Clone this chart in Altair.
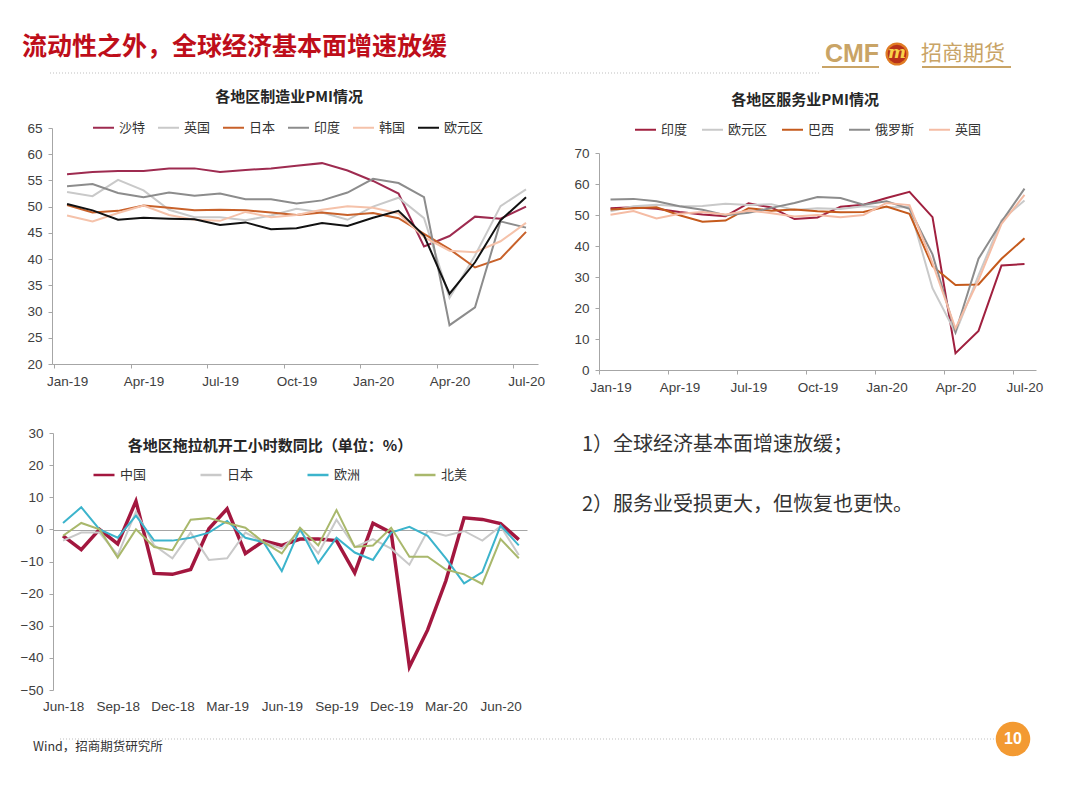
import json
import altair as alt
import pandas as pd

CJK = "Noto Sans CJK SC"
LATIN = "Liberation Sans"
W, H, M = 1064, 770, 8  # canvas size (plot area) and page margin

# ---------------- slide texts ----------------
SLIDE_TITLE = "流动性之外，全球经济基本面增速放缓"
LOGO_EN = "CMF"
LOGO_CN = "招商期货"
LOGO_MARK = "m"
NOTE_1 = "1）全球经济基本面增速放缓；"
NOTE_2 = "2）服务业受损更大，但恢复也更快。"
SOURCE = "Wind，招商期货研究所"
PAGE_NO = "10"

# ---------------- chart 1: manufacturing PMI ----------------
MFG_TITLE = "各地区制造业PMI情况"
mfg_months = ["Jan-19", "Feb-19", "Mar-19", "Apr-19", "May-19", "Jun-19", "Jul-19",
              "Aug-19", "Sep-19", "Oct-19", "Nov-19", "Dec-19", "Jan-20", "Feb-20",
              "Mar-20", "Apr-20", "May-20", "Jun-20", "Jul-20"]
mfg_series = ["沙特", "英国", "日本", "印度", "韩国", "欧元区"]
mfg_colors = ["#9E2B50", "#C9C9C9", "#C8612A", "#8C8C8C", "#F5C2AA", "#111111"]
mfg_saudi = [56.2, 56.6, 56.8, 56.8, 57.3, 57.3, 56.6, 57.0, 57.3, 57.8, 58.3, 56.9, 54.9, 52.5, 42.4, 44.4, 48.1, 47.7, 50.0]
mfg_uk = [52.8, 52.0, 55.1, 53.1, 49.4, 48.0, 48.0, 47.4, 48.3, 49.6, 48.9, 47.5, 50.0, 51.7, 47.8, 32.6, 40.7, 50.1, 53.3]
mfg_japan = [50.3, 48.9, 49.2, 50.2, 49.8, 49.3, 49.4, 49.3, 48.9, 48.4, 48.9, 48.4, 48.8, 47.8, 44.8, 41.9, 38.4, 40.1, 45.2]
mfg_india = [53.9, 54.3, 52.6, 51.8, 52.7, 52.1, 52.5, 51.4, 51.4, 50.6, 51.2, 52.7, 55.3, 54.5, 51.8, 27.4, 30.8, 47.2, 46.0]
mfg_korea = [48.3, 47.2, 48.8, 50.2, 48.4, 47.5, 47.3, 49.0, 48.0, 48.4, 49.4, 50.1, 49.8, 48.7, 44.2, 41.6, 41.3, 43.4, 46.9]
mfg_ez = [50.5, 49.3, 47.5, 47.9, 47.7, 47.6, 46.5, 47.0, 45.7, 45.9, 46.9, 46.3, 47.9, 49.2, 44.5, 33.4, 39.4, 47.4, 51.8]
mfg_yticks = [20, 25, 30, 35, 40, 45, 50, 55, 60, 65]

# ---------------- chart 2: services PMI ----------------
SVC_TITLE = "各地区服务业PMI情况"
svc_months = ["Jan-19", "Feb-19", "Mar-19", "Apr-19", "May-19", "Jun-19", "Jul-19",
              "Aug-19", "Sep-19", "Oct-19", "Nov-19", "Dec-19", "Jan-20", "Feb-20",
              "Mar-20", "Apr-20", "May-20", "Jun-20", "Jul-20"]
svc_series = ["印度", "欧元区", "巴西", "俄罗斯", "英国"]
svc_colors = ["#A0203F", "#C9C9C9", "#C55A1C", "#8C8C8C", "#F5BCA4"]
svc_india = [52.2, 52.5, 52.0, 51.0, 50.2, 49.6, 53.8, 52.4, 48.7, 49.2, 52.7, 53.3, 55.5, 57.5, 49.3, 5.4, 12.6, 33.7, 34.2]
svc_ez = [51.2, 52.8, 53.3, 52.8, 52.9, 53.6, 53.2, 53.5, 51.6, 52.2, 51.9, 52.8, 52.5, 52.6, 26.4, 12.0, 30.5, 48.3, 54.7]
svc_brazil = [51.8, 52.2, 52.5, 49.9, 47.8, 48.2, 52.2, 51.4, 51.8, 51.2, 50.9, 51.0, 52.7, 50.4, 33.5, 27.4, 27.6, 35.9, 42.5]
svc_russia = [55.0, 55.2, 54.4, 52.8, 51.7, 49.9, 50.7, 52.3, 53.9, 55.8, 55.5, 53.3, 54.4, 52.0, 37.3, 12.2, 35.9, 47.8, 58.5]
svc_uk = [50.1, 51.3, 48.9, 50.4, 51.0, 50.2, 51.4, 50.6, 49.5, 50.0, 49.3, 50.0, 53.9, 53.2, 34.5, 13.4, 29.0, 47.1, 56.5]
svc_yticks = [0, 10, 20, 30, 40, 50, 60, 70]

# ---------------- chart 3: tractor working hours YoY ----------------
TRC_TITLE = "各地区拖拉机开工小时数同比（单位：%）"
trc_months = ["Jun-18", "Jul-18", "Aug-18", "Sep-18", "Oct-18", "Nov-18", "Dec-18",
              "Jan-19", "Feb-19", "Mar-19", "Apr-19", "May-19", "Jun-19", "Jul-19",
              "Aug-19", "Sep-19", "Oct-19", "Nov-19", "Dec-19", "Jan-20", "Feb-20",
              "Mar-20", "Apr-20", "May-20", "Jun-20", "Jul-20"]
trc_series = ["中国", "日本", "欧洲", "北美"]
trc_colors = ["#A3173F", "#C9C9C9", "#3CB4CC", "#A9B86C"]
trc_china = [-2.0, -6.3, 0.0, -4.5, 8.8, -13.7, -14.0, -12.5, 0.2, 6.4, -7.5, -3.6, -5.0,
             -3.0, -3.0, -3.5, -13.5, 1.9, -1.0, -42.8, -31.3, -16.0, 3.6, 3.1, 1.8, -3.2]
trc_japan = [-3.5, -1.0, -1.0, -8.0, 5.5, -5.0, -9.0, -1.0, -9.5, -9.0, -1.0, -4.0, -6.0,
             -0.5, -7.5, 3.0, -5.5, -3.0, -6.0, -11.0, -0.5, -2.0, -0.5, -3.5, 1.0, -8.0]
trc_europe = [2.0, 6.9, 0.0, -2.6, 4.3, -3.5, -3.5, -2.6, -1.0, 2.6, -2.6, -4.0, -13.0,
              0.2, -10.5, -2.6, -7.2, -9.5, -1.0, 0.8, -2.0, -9.0, -16.8, -13.3, 1.2, -5.0]
trc_na = [-2.0, 2.0, 0.0, -8.8, 0.0, -5.5, -6.5, 3.0, 3.5, 2.0, 0.5, -4.0, -7.5,
          0.5, -5.0, 6.0, -5.5, -5.0, 0.5, -8.5, -8.5, -12.5, -14.0, -17.0, -3.0, -9.0]
trc_yticks = [-50, -40, -30, -20, -10, 0, 10, 20, 30]


def long_df(months, series, values):
    rows = []
    for name, vals in zip(series, values):
        for i, (m, v) in enumerate(zip(months, vals)):
            rows.append({"idx": i, "month": m, "series": name, "value": v})
    return pd.DataFrame(rows)


df_mfg = long_df(mfg_months, mfg_series, [mfg_saudi, mfg_uk, mfg_japan, mfg_india, mfg_korea, mfg_ez])
df_svc = long_df(svc_months, svc_series, [svc_india, svc_ez, svc_brazil, svc_russia, svc_uk])
df_trc = long_df(trc_months, trc_series, [trc_china, trc_japan, trc_europe, trc_na])

AXIS_GRAY = "#A6A6A6"
LABEL_GRAY = "#404040"


def month_axis(labels, first_value, axis_y_page, label_offset, **kw):
    expr = "%s[round((datum.value - (%s)) / 3)]" % (json.dumps(labels, ensure_ascii=False), first_value)
    base = dict(values=[first_value + 3 * k for k in range(len(labels))], labelExpr=expr,
                labelOffset=label_offset, orient="bottom", offset=-(H - (axis_y_page - M)),
                grid=False, title=None, domainColor=AXIS_GRAY, tickColor=AXIS_GRAY, tickSize=4,
                labelPadding=6, labelFont=LATIN, labelFontSize=13.5, labelColor=LABEL_GRAY,
                labelFlush=False, labelOverlap=False)
    base.update(kw)
    return alt.Axis(**base)


def value_axis(values, axis_x_page, **kw):
    base = dict(values=values, orient="left", offset=-(axis_x_page - M), grid=False, title=None,
                domainColor=AXIS_GRAY, tickColor=AXIS_GRAY, tickSize=4, labelPadding=6,
                labelFont=LATIN, labelFontSize=13.5, labelColor=LABEL_GRAY, labelOverlap=False,
                labelFlush=False)
    base.update(kw)
    return alt.Axis(**base)


def legend(x_page, y_page, pad, sw=2.0):
    return alt.Legend(orient="none", legendX=x_page - M, legendY=y_page - M, direction="horizontal",
                      title=None, symbolType="stroke", symbolSize=441, symbolStrokeWidth=sw,
                      labelFont=CJK, labelFontSize=13, labelColor="#333333", columnPadding=pad,
                      labelOffset=4, padding=0)


def xscale(dmin, dmax, px0, px1):
    return alt.Scale(domain=[dmin, dmax], range=[px0 - M, px1 - M], nice=False, zero=False)


def yscale(dmin, dmax, px_bottom, px_top):
    return alt.Scale(domain=[dmin, dmax], range=[px_bottom - M, px_top - M], nice=False, zero=False)


# ---- panel 1 ----
p1 = alt.Chart(df_mfg).mark_line(strokeWidth=2).encode(
    x=alt.X("idx:Q", scale=xscale(-0.59, 18.47, 52, 538),
            axis=month_axis(mfg_months[::3], -0.5, 364, 12.75)),
    y=alt.Y("value:Q", scale=yscale(20, 65, 364, 128), axis=value_axis(mfg_yticks, 52)),
    color=alt.Color("series:N", scale=alt.Scale(domain=mfg_series, range=mfg_colors),
                    legend=legend(92, 116, 8)),
)

# ---- panel 2 ----
p2 = alt.Chart(df_svc).mark_line(strokeWidth=2).encode(
    x=alt.X("idx:Q", scale=xscale(-0.5, 18.5, 599, 1036),
            axis=month_axis(svc_months[::3], -0.5, 370, 11.5)),
    y=alt.Y("value:Q", scale=yscale(0, 70, 370, 153), axis=value_axis(svc_yticks, 599)),
    color=alt.Color("series:N", scale=alt.Scale(domain=svc_series, range=svc_colors),
                    legend=legend(634, 118, 10)),
)

# ---- panel 3 (x axis drawn along the zero line, labels pushed to the bottom) ----
p3 = alt.Chart(df_trc).mark_line().encode(
    x=alt.X("idx:Q", scale=xscale(-0.55, 25.45, 53, 527),
            axis=month_axis(trc_months[::3], 0, 530, 0, ticks=False, tickSize=0, labelPadding=169)),
    y=alt.Y("value:Q", scale=yscale(-50, 30, 690, 433), axis=value_axis(trc_yticks, 53)),
    color=alt.Color("series:N", scale=alt.Scale(domain=trc_series, range=trc_colors),
                    legend=legend(92, 463, 48, sw=2.5)),
    strokeWidth=alt.condition(alt.datum.series == trc_series[0], alt.value(3.5), alt.value(2)),
)


# ---------------- decorative / text layers ----------------
def text(t, x, y, size, color="#262626", weight="normal", align="left", font=CJK, style="normal"):
    return alt.Chart(pd.DataFrame({"t": [t]})).mark_text(
        align=align, baseline="middle", fontSize=size, font=font, fontWeight=weight,
        color=color, fontStyle=style
    ).encode(x=alt.value(x - M), y=alt.value(y - M), text="t:N")


def hline(x0, x1, y, color, width=1.0, dash=None):
    kw = dict(color=color, strokeWidth=width)
    if dash:
        kw["strokeDash"] = dash
    return alt.Chart(pd.DataFrame({"a": [0]})).mark_rule(**kw).encode(
        x=alt.value(x0 - M), x2=alt.value(x1 - M), y=alt.value(y - M))


def dot(x, y, r, color):
    return alt.Chart(pd.DataFrame({"a": [0]})).mark_circle(
        size=3.14159 * r * r, color=color, opacity=1).encode(x=alt.value(x - M), y=alt.value(y - M))


GOLD = "#C9A466"
layers = [
    text(SLIDE_TITLE, 22, 47, 25, color="#BE0E1A", weight="bold"),
    hline(50, 820, 73, "#BFBFBF", 1, [1, 2]),
    text(LOGO_EN, 852, 54, 25, color=GOLD, weight="bold", align="center", font=LATIN),
    hline(822, 879, 67, GOLD, 2),
    dot(897, 54, 13, "#E07B24"),
    dot(897, 54, 10.5, "#B8321A"),
    text(LOGO_MARK, 897, 53, 17, color="#F8D24A", weight="bold", align="center", font="DejaVu Serif", style="italic"),
    text(LOGO_CN, 921, 54, 21, color=GOLD),
    hline(922, 1011, 67, GOLD, 2),
    text(MFG_TITLE, 289, 97, 15, weight="bold", align="center"),
    text(SVC_TITLE, 805, 100, 15, weight="bold", align="center"),
    text(TRC_TITLE, 270, 446, 15, weight="bold", align="center"),
    text(NOTE_1, 582, 445, 20, color="#333333"),
    text(NOTE_2, 582, 505, 20, color="#333333"),
    hline(60, 995, 739, "#BFBFBF", 1, [1, 2]),
    text(SOURCE, 33, 747, 12.5, color="#333333"),
    dot(1013, 739, 19.5, "#F39A32"),
    text(PAGE_NO, 1013, 739, 16, color="#FFFFFF", weight="bold", align="center", font=LATIN),
    p1, p2, p3,
]

chart = alt.layer(*layers).resolve_scale(
    x="independent", y="independent", color="independent"
).properties(
    width=W, height=H, autosize=alt.AutoSizeParams(type="none"), padding=0, background="white"
).configure_view(stroke=None)

chart.save("out.html", embed_options={"renderer": "svg", "actions": False})
